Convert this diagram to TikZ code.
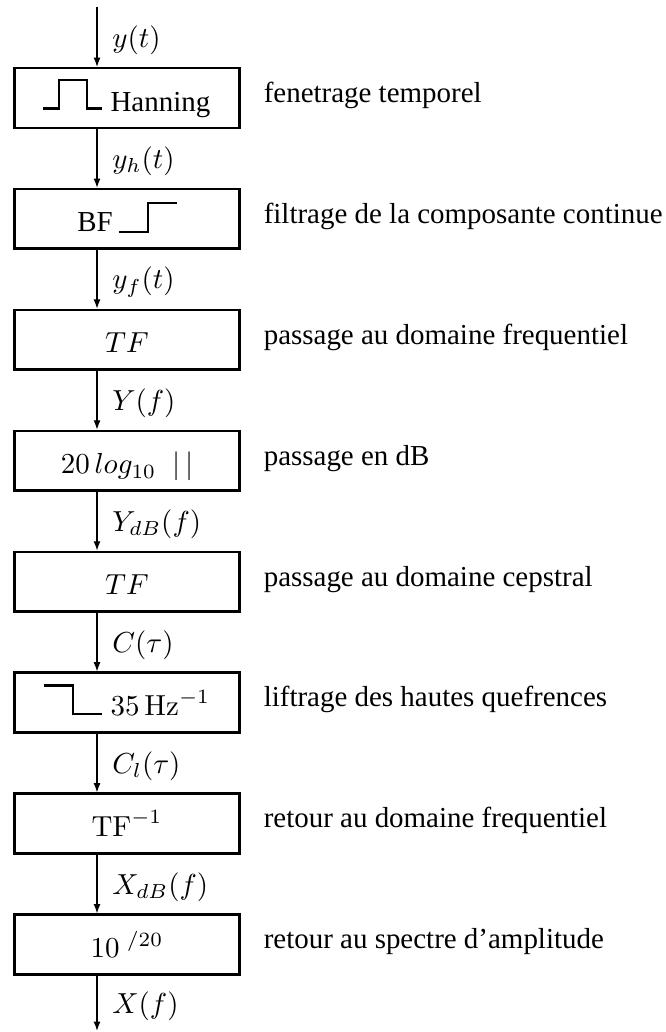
\documentclass[tikz,border=0pt]{standalone}
\usepackage[no-math]{fontspec}
\setmainfont{Liberation Serif}
\usetikzlibrary{positioning, arrows.meta, calc}

\begin{document}
\begin{tikzpicture}[node distance=20.26pt, >={Latex[length=3.2pt,width=2.4pt]},
    blk/.style={draw, line width=0.9pt, minimum width=77.8pt, minimum height=20.6pt, inner sep=0pt, text height=9pt, text depth=0pt},
    note/.style={inner sep=0pt, text height=3pt, text depth=0pt},
    sig/.style={right, midway, xshift=1.8pt, yshift=-1pt},
    glyph/.style={line width=0.75pt}]
    \useasboundingbox (0,0) rectangle (230pt,-356.4pt);

    % Processing blocks
    \node[blk] (hann) at (43.85pt,-33.84pt) {\hspace*{23.1pt}Hanning};
    \node[blk] (bf) [below=of hann] {BF\hspace*{22pt}};
    \node[blk] (tf) [below=of bf] {$TF$};
    \node[blk] (db) [below=of tf] {$20\,log_{10}\;\;|\,|$};
    \node[blk] (tfc) [below=of db] {$TF$};
    \node[blk] (lift) [below=of tfc] {\hspace*{23.1pt}$35\,\mathrm{Hz}^{-1}$};
    \node[blk] (itf) [below=of lift] {$\mathrm{TF}^{-1}$};
    \node[blk] (expo) [below=of itf] {$10\ {}^{/20}$};

    % Small window / filter shapes inside the blocks
    \draw[glyph, shift={(hann.base)}] (-29pt,0.9pt) -- (-23.5pt,0.9pt) -- (-23.5pt,10.7pt) -- (-13.8pt,10.7pt) -- (-13.8pt,0.9pt) -- (-8.6pt,0.9pt);
    \draw[glyph, shift={(bf.base)}] (-2.8pt,0pt) -- (7.25pt,0pt) -- (7.25pt,10pt) -- (17.3pt,10pt);
    \draw[glyph, shift={(lift.base)}] (-28.7pt,10.4pt) -- (-18.6pt,10.4pt) -- (-18.6pt,0.6pt) -- (-8.6pt,0.6pt);

    % Descriptions
    \node[note, right=7.7pt of hann] (n1) {fenetrage temporel};
    \node[note, right=7.7pt of bf] (n2) {filtrage de la composante continue};
    \node[note, right=7.7pt of tf] (n3) {passage au domaine frequentiel};
    \node[note, right=7.7pt of db] (n4) {passage en dB};
    \node[note, right=7.7pt of tfc] (n5) {passage au domaine cepstral};
    \node[note, right=7.7pt of lift] (n6) {liftrage des hautes quefrences};
    \node[note, right=7.7pt of itf] (n7) {retour au domaine frequentiel};
    \node[note, right=7.7pt of expo] (n8) {retour au spectre d’amplitude};

    % Signal path
    \coordinate (in) at (33.5pt,-2.4pt);
    \coordinate (out) at (33.5pt,-356pt);
    \draw[->] (in) -- (in |- hann.north) node[sig] {$y(t)$};
    \draw[->] (in |- hann.south) -- (in |- bf.north) node[sig] {$y_h(t)$};
    \draw[->] (in |- bf.south) -- (in |- tf.north) node[sig] {$y_f(t)$};
    \draw[->] (in |- tf.south) -- (in |- db.north) node[sig] {$Y(f)$};
    \draw[->] (in |- db.south) -- (in |- tfc.north) node[sig] {$Y_{dB}(f)$};
    \draw[->] (in |- tfc.south) -- (in |- lift.north) node[sig] {$C(\tau)$};
    \draw[->] (in |- lift.south) -- (in |- itf.north) node[sig] {$C_l(\tau)$};
    \draw[->] (in |- itf.south) -- (in |- expo.north) node[sig] {$X_{dB}(f)$};
    \draw[->] (in |- expo.south) -- (out) node[sig] {$X(f)$};

\end{tikzpicture}
\end{document}
